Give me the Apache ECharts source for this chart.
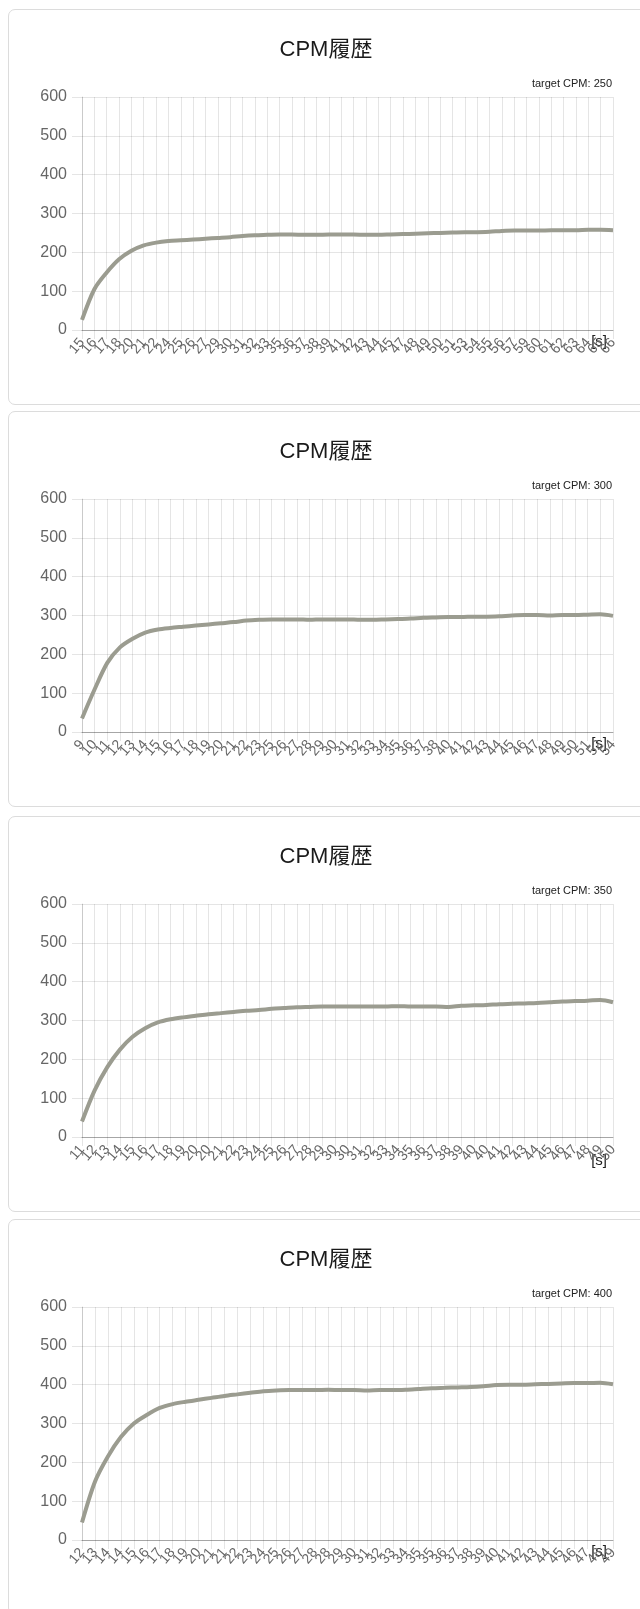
<!DOCTYPE html>
<html>
<head>
<meta charset="utf-8">
<script src="https://cdn.jsdelivr.net/npm/echarts@6/dist/echarts.min.js"></script>
<style>
  html, body { margin: 0; padding: 0; background: #fff; }
  #wrap { position: relative; width: 640px; height: 1609px; overflow: hidden; }
  .card { position: absolute; left: 8px; width: 680px; height: 396px; border: 1px solid #dcdcdc; border-radius: 7px; box-sizing: border-box; }
  #chart { position: absolute; left: 0; top: 0; width: 640px; height: 1609px; }
</style>
</head>
<body>
<div id="wrap">
  <div class="card" style="top:9px"></div>
  <div class="card" style="top:411px"></div>
  <div class="card" style="top:816px"></div>
  <div class="card" style="top:1219px"></div>
  <div id="chart"></div>
</div>
<script>
// ---- data ----
const chartTitle = 'CPM履歴';
const axisUnit = '[s]';
const targets = [250, 300, 350, 400];
const yTicks = [0, 100, 200, 300, 400, 500, 600];

const labels1 = ['15','16','17','18','20','21','22','24','25','26','27','29','30','31','32','33','35','36','37','38','39','41','42','43','44','45','47','48','49','50','51','53','54','55','56','57','59','60','61','62','63','64','65','66'];
const values1 = [26,105,148,182,204,218,225,229,231,233,235,237,239,242,244,245,246,246,245,245,246,246,246,245,245,246,247,248,249,250,251,252,252,253,255,256,256,256,257,257,257,258,258,257];

const labels2 = ['9','10','11','12','13','14','15','16','17','18','19','20','21','22','23','25','26','27','28','29','30','31','32','33','34','35','36','37','38','40','41','42','43','44','45','46','47','48','49','50','51','52','54'];
const values2 = [35,110,178,218,240,256,264,268,271,274,277,280,283,287,289,290,290,290,289,290,290,290,289,289,290,291,292,294,295,296,296,297,297,298,300,301,301,300,301,301,302,303,299];

const labels3 = ['11','12','13','14','15','16','17','18','19','20','20','21','22','23','24','25','26','27','28','29','30','30','31','32','33','34','35','36','37','38','39','40','40','41','42','43','44','45','46','47','48','49','50'];
const values3 = [40,120,180,225,258,280,295,303,308,312,316,319,322,325,327,330,332,334,335,336,336,336,336,336,336,337,336,336,336,335,338,339,340,342,343,344,345,347,349,350,351,353,347];

const labels4 = ['12','13','14','14','15','16','17','18','19','20','21','21','22','23','24','25','26','27','28','28','29','30','31','32','33','34','35','35','36','37','38','39','40','41','42','43','44','45','46','47','48','49'];
const values4 = [45,150,215,265,300,322,340,350,356,361,366,371,375,379,383,385,386,386,386,387,386,386,385,386,386,387,389,391,392,393,394,396,399,400,400,401,402,403,404,404,405,401];

const allLabels = [labels1, labels2, labels3, labels4];
const allValues = [values1, values2, values3, values4];

// ---- layout ----
const gridTops = [97, 499, 904, 1307];
const unitPad = [4, 4, 16, 4];
const plotLeft = 82, plotWidth = 531, plotHeight = 233;

const chart = echarts.init(document.getElementById('chart'), null, { renderer: 'canvas' });

const grids = [], xAxes = [], yAxes = [], series = [], graphics = [];
const fontFam = "'Liberation Sans', Arial, 'Noto Sans CJK JP', sans-serif";

for (let k = 0; k < 4; k++) {
  const top = gridTops[k];
  grids.push({ left: plotLeft, top: top, width: plotWidth, height: plotHeight, containLabel: false, outerBoundsMode: 'none' });
  xAxes.push({
    type: 'category', gridIndex: k, data: allLabels[k], boundaryGap: false,
    name: axisUnit, nameLocation: 'end', nameGap: -6, nameMoveOverlap: false,
    nameTextStyle: { align: 'right', verticalAlign: 'top', padding: [unitPad[k], 0, 0, 0], fontSize: 15, color: '#222', fontFamily: fontFam },
    axisLine: { show: true, lineStyle: { color: 'rgba(0,0,0,0.28)', width: 1 } },
    axisTick: { show: true, interval: 0, length: 9, lineStyle: { color: 'rgba(0,0,0,0.1)' } },
    axisLabel: { interval: 0, rotate: 50, margin: 10, fontSize: 14, color: '#666', fontFamily: fontFam, hideOverlap: false },
    splitLine: { show: true, interval: 0, lineStyle: { color: 'rgba(0,0,0,0.1)', width: 1 } }
  });
  yAxes.push({
    type: 'value', gridIndex: k, min: yTicks[0], max: yTicks[yTicks.length - 1], interval: 100,
    axisLine: { show: true, lineStyle: { color: 'rgba(0,0,0,0.12)' } },
    axisTick: { show: true, length: 10, lineStyle: { color: 'rgba(0,0,0,0.1)' } },
    axisLabel: { margin: 15, fontSize: 16, color: '#666', fontFamily: fontFam },
    splitLine: { show: true, lineStyle: { color: 'rgba(0,0,0,0.1)', width: 1 } }
  });
  series.push({
    type: 'line', xAxisIndex: k, yAxisIndex: k, data: allValues[k],
    showSymbol: false, symbol: 'none', smooth: 0.3,
    lineStyle: { color: '#9b9c90', width: 4 }, silent: true, animation: false
  });
  graphics.push({
    type: 'text', x: 326, y: top - 47, silent: true,
    style: { text: chartTitle, font: "22px " + fontFam, fill: '#1a1a1a', align: 'center', verticalAlign: 'middle' }
  });
  graphics.push({
    type: 'text', x: 612, y: top - 13, silent: true,
    style: { text: 'target CPM: ' + targets[k], font: "11px " + fontFam, fill: '#222', align: 'right', verticalAlign: 'middle' }
  });
}

chart.setOption({
  animation: false,
  backgroundColor: 'transparent',
  grid: grids, xAxis: xAxes, yAxis: yAxes, series: series,
  graphic: graphics
});
</script>
</body>
</html>
